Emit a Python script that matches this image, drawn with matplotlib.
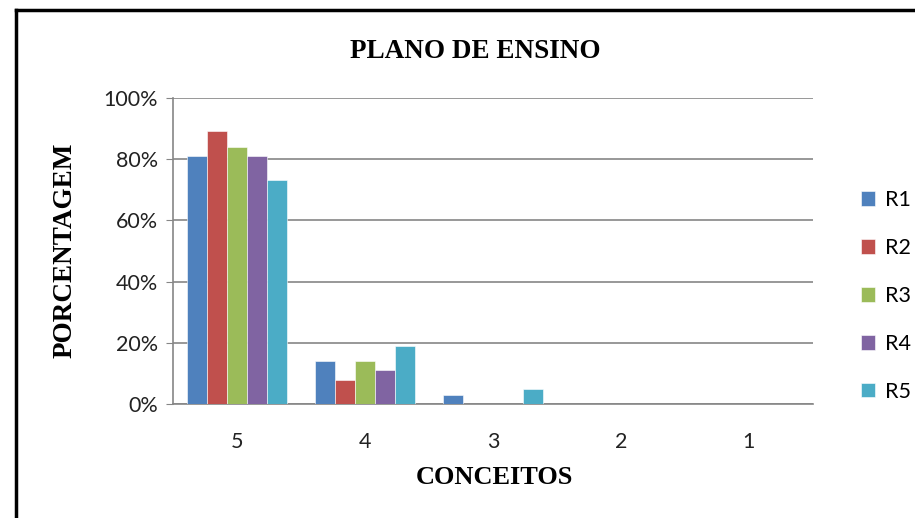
import numpy as np
import matplotlib
matplotlib.use("Agg")
import matplotlib.pyplot as plt
from matplotlib.lines import Line2D
from matplotlib.ticker import PercentFormatter

categories = ["5", "4", "3", "2", "1"]
series_names = ["R1", "R2", "R3", "R4", "R5"]
r1 = [81, 14, 3, 0, 0]
r2 = [89, 8, 0, 0, 0]
r3 = [84, 14, 0, 0, 0]
r4 = [81, 11, 0, 0, 0]
r5 = [73, 19, 5, 0, 0]
colors = ["#4F81BD", "#C0504D", "#9BBB59", "#8064A2", "#4BACC6"]

fig = plt.figure(figsize=(9.15, 5.18), dpi=100)
ax = fig.add_axes([0.189, 0.22, 0.6995, 0.5914])

x = np.arange(len(categories))
w = 0.155
for i, (vals, name) in enumerate(zip([r1, r2, r3, r4, r5], series_names)):
    ax.bar(x + (i - 2) * w, vals, w, color=colors[i], label=name,
           edgecolor="white", linewidth=0.4, zorder=3)

ax.set_xlim(-0.5, len(categories) - 0.5)
ax.set_ylim(0, 100)
ax.set_yticks(range(0, 101, 20))
ax.yaxis.set_major_formatter(PercentFormatter(decimals=0))
ax.set_xticks(x)
ax.set_xticklabels(categories)
ax.grid(axis="y", color="#868686", linewidth=1.2, zorder=0)
for s in ["top", "right"]:
    ax.spines[s].set_visible(False)
for s in ["left", "bottom"]:
    ax.spines[s].set_color("#868686")
    ax.spines[s].set_linewidth(1.2)
ax.tick_params(axis="y", length=5, color="#868686", labelsize=15.5, pad=6, labelcolor="#222222")
ax.tick_params(axis="x", length=0, labelsize=15.5, pad=20, labelcolor="#222222")
for lab in ax.get_xticklabels() + ax.get_yticklabels():
    lab.set_family("Lato")

serif = "Liberation Serif"
fig.text(0.519, 0.9, "PLANO DE ENSINO", ha="center", va="center",
         fontsize=19.5, fontweight="bold", family=serif)
fig.text(0.071, 0.517, "PORCENTAGEM", ha="center", va="center", rotation=90,
         fontsize=19.5, fontweight="bold", family=serif)
fig.text(0.54, 0.078, "CONCEITOS", ha="center", va="center",
         fontsize=19, fontweight="bold", family=serif)

leg = ax.legend(loc="center left", bbox_to_anchor=(1.045, 0.353), frameon=False,
                prop={"family": "Lato", "size": 15.5}, handlelength=0.65,
                handleheight=0.65, handletextpad=0.45, labelspacing=1.3)

# outer chart frame
fig.add_artist(Line2D([0.0175, 0.0175], [0, 0.981], color="black", linewidth=2.5))
fig.add_artist(Line2D([0.0175, 1.0], [0.981, 0.981], color="black", linewidth=2.5))

fig.savefig("out.png", dpi=100)
